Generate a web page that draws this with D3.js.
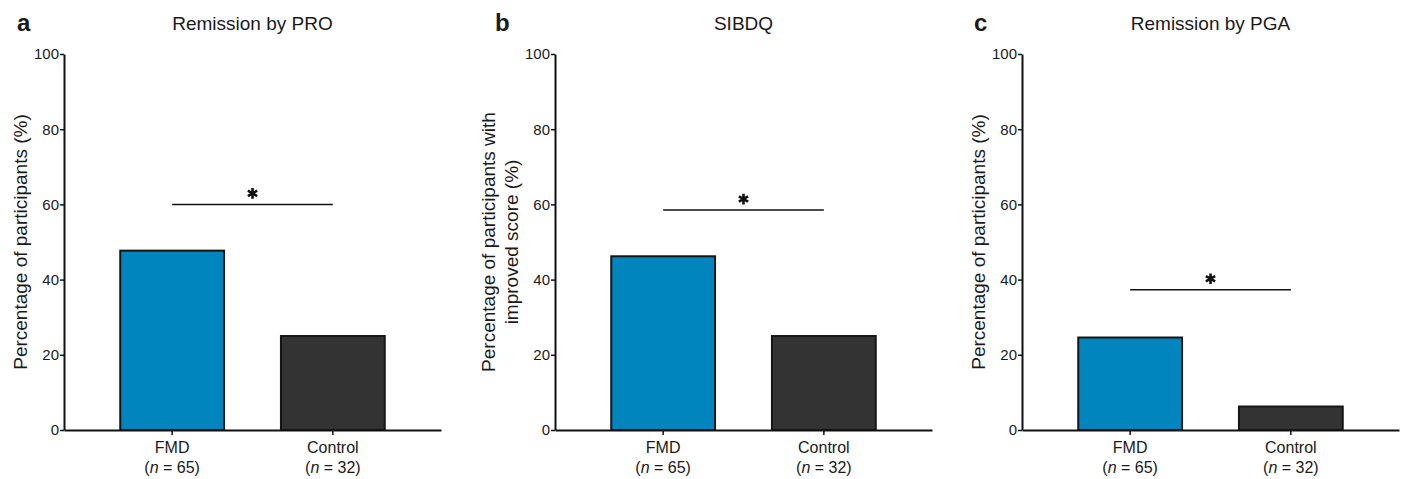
<!DOCTYPE html>
<html lang="en">
<head>
    <meta charset="UTF-8">
    <title>FMD remission bars</title>
    <script src="https://d3js.org/d3.v7.min.js"></script>
    <style>
        body { margin: 0; background: #fff; }
        svg text { font-family: "Liberation Sans", Arial, Helvetica, sans-serif; fill: #1a1a1a; }
    </style>
</head>
<body>
<svg width="1405" height="479"></svg>
<script>
    // data
    const groups = ["FMD", "Control"];
    const groupN = ["65", "32"];
    const panelLetters = ["a", "b", "c"];
    const panelTitles = ["Remission by PRO", "SIBDQ", "Remission by PGA"];
    const yLabels = [
        ["Percentage of participants (%)"],
        ["Percentage of participants with", "improved score (%)"],
        ["Percentage of participants (%)"]
    ];
    const fmdValues = [47.7, 46.2, 24.6];
    const controlValues = [25.0, 25.0, 6.25];
    const sigLevels = [60, 58.5, 37.3];
    const yTicks = [0, 20, 40, 60, 80, 100];

    const barColors = ["#0085be", "#333333"];

    // layout
    const panelX = [64, 555, 1022];
    const letterX = [17, 495, 974];
    const axisW = 377;
    const y0 = 430, y1 = 54;

    let svg = d3.select("svg");

    let y = d3.scaleLinear().domain([0, 100]).range([y0, y1]);

    panelTitles.forEach(function (title, i) {
        let left = panelX[i];
        let g = svg.append("g");

        let x = d3.scaleBand()
            .domain(groups)
            .range([left, left + axisW])
            .paddingInner(0.354)
            .paddingOuter(0.35);

        let vals = [fmdValues[i], controlValues[i]];

        // bars
        g.selectAll("rect.bar")
            .data(groups)
            .enter()
            .append("rect")
            .attr("class", "bar")
            .attr("x", d => x(d))
            .attr("width", x.bandwidth())
            .attr("y", (d, j) => y(vals[j]))
            .attr("height", (d, j) => y(0) - y(vals[j]))
            .attr("fill", (d, j) => barColors[j])
            .attr("stroke", "#161616")
            .attr("stroke-width", 2);

        // y axis
        let yAxis = g.append("g")
            .attr("transform", `translate(${left},0)`)
            .call(d3.axisLeft(y).tickValues(yTicks).tickSize(4).tickSizeOuter(0).tickPadding(1));
        yAxis.select(".domain").attr("stroke", "#111").attr("stroke-width", 2);
        yAxis.selectAll(".tick line").attr("stroke", "#111").attr("stroke-width", 1.5);
        yAxis.selectAll(".tick text").style("font-size", "15px").attr("fill", "#1a1a1a");

        // x axis
        let xAxis = g.append("g")
            .attr("transform", `translate(0,${y0})`)
            .call(d3.axisBottom(x).tickSize(5).tickSizeOuter(0).tickFormat(""));
        xAxis.select(".domain").attr("stroke", "#111").attr("stroke-width", 2);
        xAxis.selectAll(".tick line").attr("stroke", "#111").attr("stroke-width", 1.5);

        // x labels, two lines
        groups.forEach(function (grp, j) {
            let cx = x(grp) + x.bandwidth() / 2;
            g.append("text")
                .attr("x", cx).attr("y", y0 + 23)
                .attr("text-anchor", "middle")
                .style("font-size", "16px")
                .text(grp);
            let t2 = g.append("text")
                .attr("x", cx).attr("y", y0 + 43)
                .attr("text-anchor", "middle")
                .style("font-size", "16px");
            t2.append("tspan").text("(");
            t2.append("tspan").style("font-style", "italic").text("n");
            t2.append("tspan").text(" = " + groupN[j] + ")");
        });

        // significance bracket
        let xa = x(groups[0]) + x.bandwidth() / 2;
        let xb = x(groups[1]) + x.bandwidth() / 2;
        g.append("line")
            .attr("x1", xa).attr("x2", xb)
            .attr("y1", y(sigLevels[i])).attr("y2", y(sigLevels[i]))
            .attr("stroke", "#111")
            .attr("stroke-width", 1.5);
        g.append("path")
            .attr("d", d3.symbol(d3.symbolAsterisk, 80)())
            .attr("transform", `translate(${(xa + xb) / 2},${y(sigLevels[i]) - 11})`)
            .attr("stroke", "#111")
            .attr("stroke-width", 2.6)
            .attr("fill", "none");

        // y label
        let lines = yLabels[i];
        let lbl = g.append("text")
            .attr("transform", `translate(${left - 37},${(y0 + y1) / 2}) rotate(-90)`)
            .attr("text-anchor", "middle")
            .style("font-size", "19px");
        lines.forEach(function (ln, k) {
            lbl.append("tspan")
                .attr("x", 0)
                .attr("y", (k - (lines.length - 1)) * 23)
                .text(ln);
        });

        // title and letter
        g.append("text")
            .attr("x", left + axisW / 2).attr("y", 30)
            .attr("text-anchor", "middle")
            .style("font-size", "19px")
            .text(title);
        g.append("text")
            .attr("x", letterX[i]).attr("y", 31)
            .style("font-size", "24px")
            .style("font-weight", "bold")
            .text(panelLetters[i]);
    });
</script>
</body>
</html>
